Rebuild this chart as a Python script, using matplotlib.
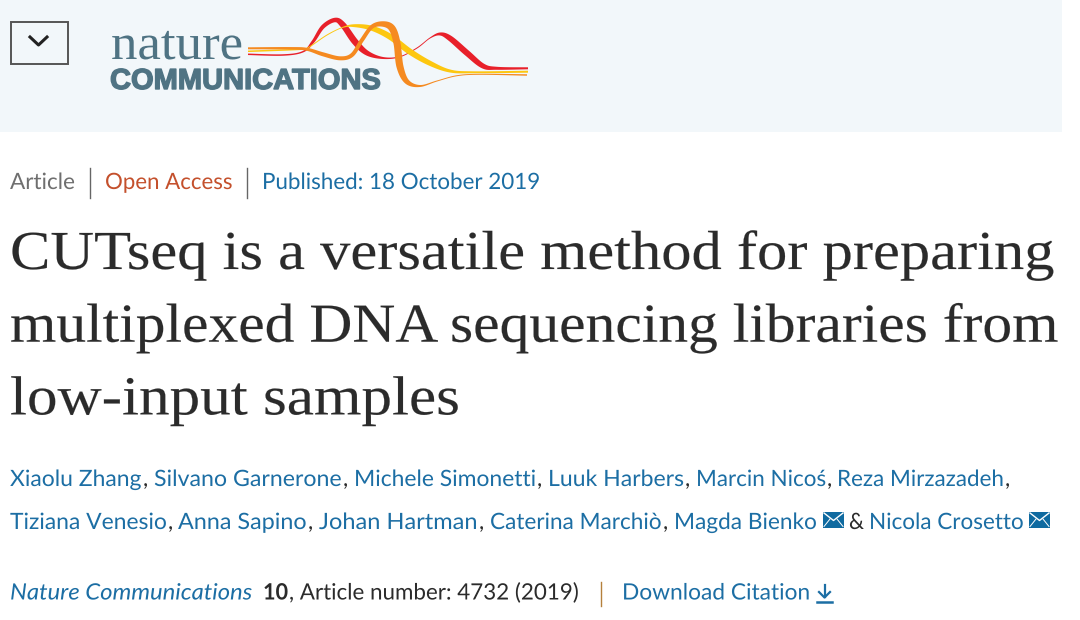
import numpy as np
import matplotlib
matplotlib.use("Agg")
import matplotlib.pyplot as plt
from matplotlib.patches import Rectangle, Polygon
from matplotlib.patheffects import AbstractPathEffect
from matplotlib.transforms import Affine2D

# Colores
banner = "#f2f7fa"
azul = "#1c6ea4"
gris = "#2b2b2b"
logo_azul = "#4f7383"

# Textos de la cabecera
titulo = ["CUTseq is a versatile method for preparing",
          "multiplexed DNA sequencing libraries from",
          "low-input samples"]
autores_1 = ["Xiaolu Zhang", "Silvano Garnerone", "Michele Simonetti",
             "Luuk Harbers", "Marcin Nicoś", "Reza Mirzazadeh"]
autores_2 = ["Tiziana Venesio", "Anna Sapino", "Johan Hartman",
             "Caterina Marchiò", "Magda Bienko", "Nicola Crosetto"]

# Limites horizontales de cada autor en la imagen
x_autores_1 = [(10, 142), (154, 342), (354, 536), (548, 684), (696, 826), (837, 1004)]
x_autores_2 = [(10, 167), (178, 307), (319, 478), (490, 662), (674, 817), (869, 1024)]

# Cintas del logo: x, y, grosor
rojo_x = [248, 283, 303, 313, 323, 335, 343, 355, 367, 383, 400, 417, 430, 440, 450, 467, 483, 497, 528]
rojo_y = [54.3, 55, 51.7, 41.7, 26.7, 20, 25, 41.7, 53, 58, 56.7, 48, 38, 34, 38.3, 53, 66, 68.3, 68.3]
rojo_g = [1.5, 1.5, 1.5, 3, 4, 4.5, 6, 6.5, 5, 2, 1, 1, 1, 3, 5.5, 6, 5, 3, 2]
amarillo_x = [248, 300, 308, 327, 343, 355, 372, 390, 410, 430, 450, 473, 528]
amarillo_y = [51.3, 49.3, 47.7, 35, 27.3, 25.7, 28.3, 36.7, 51.7, 63.3, 71, 72.3, 71.7]
amarillo_g = [1.5, 1.5, 1, 1, 1, 3, 5, 6, 6, 5, 3, 2, 2]
naranja_x = [248, 290, 307, 323, 340, 352, 362, 372, 383, 392, 397, 400, 407, 420, 437, 457, 480, 527]
naranja_y = [48.3, 48.3, 49.3, 54.3, 58.3, 55, 40, 26.7, 24, 28.3, 43.3, 66.7, 81.7, 86, 81, 75.7, 74.3, 75]
naranja_g = [2, 2.5, 3, 4, 4, 4, 4, 4, 5.5, 7, 7, 7, 5, 2, 1, 1, 1, 1.5]


fig = plt.figure(figsize=(10.8, 6.2), dpi=100)
ax = fig.add_axes([0, 0, 1, 1])
ax.set_xlim(0, 1080)
ax.set_ylim(620, 0)
ax.axis("off")
renderer = fig.canvas.get_renderer()


class Estirar(AbstractPathEffect):
    # Estira el texto en horizontal desde x0 (el texto sigue siendo texto)
    def __init__(self, sx, x0, grosor=0):
        super().__init__()
        self.sx = sx
        self.x0 = x0
        self.grosor = grosor

    def draw_path(self, renderer, gc, tpath, affine, rgbFace=None):
        a = affine + Affine2D().translate(-self.x0, 0).scale(self.sx, 1).translate(self.x0, 0)
        if self.grosor:
            gc0 = renderer.new_gc()
            gc0.copy_properties(gc)
            gc0.set_linewidth(self.grosor)
            gc0.set_foreground(rgbFace)
            renderer.draw_path(gc0, tpath, a, rgbFace)
            gc0.restore()
        else:
            renderer.draw_path(gc, tpath, a, rgbFace)


def texto(s, x0, x1, y, px=22.5, color=gris, family="Lato", grosor=0, **kw):
    # px es el tamaño en pixeles; el ancho se ajusta para ir de x0 a x1
    t = ax.text(x0, y, s, color=color, family=family, fontsize=px * 0.72, va="baseline", **kw)
    if x1 is not None:
        ancho = t.get_window_extent(renderer).width
        t.set_path_effects([Estirar((x1 - x0) / ancho, x0, grosor)])
    return t


def cinta(xs, ys, gs, color):
    # Cinta de grosor variable, suavizada con un spline de Catmull-Rom
    p = np.column_stack([xs, ys, gs]).astype(float)
    p = np.vstack([p[0], p, p[-1]])
    trozos = []
    for i in range(1, len(p) - 2):
        t = np.linspace(0, 1, 16)[:, None]
        a, b, c, d = p[i - 1], p[i], p[i + 1], p[i + 2]
        trozos.append(0.5 * (2 * b + (c - a) * t + (2 * a - 5 * b + 4 * c - d) * t ** 2
                             + (3 * b - a - 3 * c + d) * t ** 3))
    q = np.vstack(trozos)
    # El grosor se aplica en perpendicular a la curva
    dx = np.gradient(q[:, 0])
    dy = np.gradient(q[:, 1])
    n = np.hypot(dx, dy) + 1e-9
    nx, ny = -dy / n, dx / n
    arriba = np.column_stack([q[:, 0] + nx * q[:, 2] / 2, q[:, 1] + ny * q[:, 2] / 2])
    abajo = np.column_stack([q[:, 0] - nx * q[:, 2] / 2, q[:, 1] - ny * q[:, 2] / 2])
    ax.add_patch(Polygon(np.vstack([arriba, abajo[::-1]]), closed=True, fc=color, ec="none"))


def sobre(x, y):
    # Icono de correo
    ax.add_patch(Rectangle((x, y), 21, 15.5, fc="#0f6aa0", ec="none"))
    ax.plot([x + 1, x + 10.5, x + 20], [y + 1, y + 8.5, y + 1], color="white", lw=1)
    ax.plot([x + 1, x + 7], [y + 14.5, y + 7], color="white", lw=0.7)
    ax.plot([x + 20, x + 14], [y + 14.5, y + 7], color="white", lw=0.7)


# Banda superior
ax.add_patch(Rectangle((0, 0), 1062, 132, fc=banner, ec="none"))
ax.add_patch(Rectangle((10.5, 21.5), 57, 42, fc="none", ec="#555555", lw=1.4))
ax.plot([30, 38.5, 47], [37, 45, 37], color="#222222", lw=2.2)

# Logo
texto("nature", 111, 243, 59, px=50, color=logo_azul, family="Liberation Serif")
texto("COMMUNICATIONS", 110, 382, 89, px=29, color=logo_azul, family="Liberation Sans",
      fontweight="bold", grosor=1.0)
cinta(rojo_x, rojo_y, rojo_g, "#e8202a")
cinta(amarillo_x, amarillo_y, amarillo_g, "#fdc70f")
cinta(naranja_x, naranja_y, naranja_g, "#f58a20")

# Linea de tipo de articulo
texto("Article", 10, 75, 189, color="#6f6f6f")
ax.plot([90, 90], [168, 198], color="#666666", lw=1)
texto("Open Access", 105, 232, 189, color="#c4502c")
ax.plot([247, 247], [168, 198], color="#666666", lw=1)
texto("Published: 18 October 2019", 262, 540, 189, color=azul)

# Titulo
texto(titulo[0], 10, 1054, 269, px=55, family="Liberation Serif", grosor=0.1)
texto(titulo[1], 10, 1059, 341.7, px=55, family="Liberation Serif", grosor=0.1)
texto(titulo[2], 10, 460, 414.4, px=55, family="Liberation Serif", grosor=0.1)

# Autores
for nombre, (x0, x1) in zip(autores_1, x_autores_1):
    texto(nombre, x0, x1, 486, color=azul)
    texto(",", x1 + 1, None, 486)
for nombre, (x0, x1) in zip(autores_2, x_autores_2):
    texto(nombre, x0, x1, 529, color=azul)
    if nombre not in ("Magda Bienko", "Nicola Crosetto"):
        texto(",", x1 + 1, None, 529)
sobre(823, 512)
texto("&", 849, 864, 529)
sobre(1029, 512)

# Referencia
texto("Nature Communications", 10, 252, 599.5, color=azul, style="italic")
texto("10", 263, 288, 599.5, fontweight="bold")
texto(", Article number: 4732 (2019)", 289, 579, 599.5)
ax.plot([601, 601], [582, 606], color="#b5803c", lw=1)
texto("Download Citation", 622, 811, 599.5, color=azul)
ax.plot([824.5, 824.5], [585, 597], color=azul, lw=1.6)
ax.plot([819, 824.5, 830], [592, 597.5, 592], color=azul, lw=1.6)
ax.plot([817, 832], [601.5, 601.5], color=azul, lw=1.8)

fig.savefig("out.png", dpi=100)
